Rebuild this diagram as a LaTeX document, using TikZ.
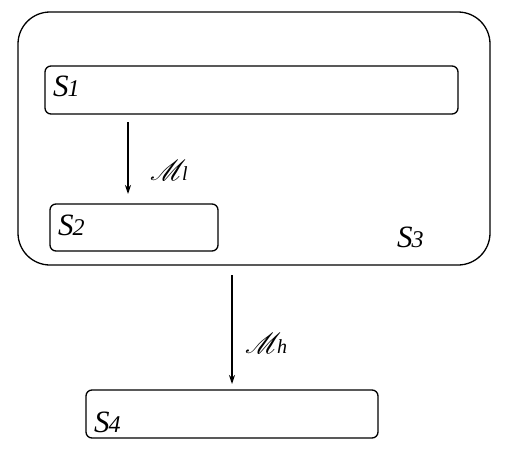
\documentclass[tikz,border=0pt]{standalone}
\usepackage{fontspec}
\usepackage{graphicx}
\usepackage{mathrsfs}
\usetikzlibrary{arrows.meta}
\setmainfont{Liberation Serif}
\newcommand{\slab}[1]{S\kern-1pt{\fontsize{24}{24}\selectfont #1}}
\newcommand{\mlb}[1]{\scalebox{2.9}{$\mathscr{M}$}\kern-4pt{\fontsize{20}{20}\selectfont\itshape #1}}
\begin{document}
\begin{tikzpicture}[x=1pt,y=-1pt,
  box/.style={draw,line width=1.3pt,rounded corners=6pt},
  lab/.style={font=\fontsize{31}{31}\selectfont\itshape,anchor=base west,inner sep=0pt},
  mlab/.style={anchor=base west,inner sep=0pt},
  arr/.style={-{Stealth[length=9pt,width=6pt]},line width=1.2pt}]
\useasboundingbox (0,0) rectangle (506,458);
\draw[line width=1.3pt,rounded corners=32pt] (18,12) rectangle (490,265);
\draw[box] (45,66) rectangle (458,114);
\draw[box] (50,204) rectangle (218,251);
\draw[box] (86,390) rectangle (378,438);
\node[lab] (s1) at (53,96) {\slab{1}};
\node[lab] (s2) at (58,235) {\slab{2}};
\node[lab] (s3) at (397,247) {\slab{3}};
\node[lab] (s4) at (94,432) {\slab{4}};
\coordinate (a1) at (128,122);
\coordinate (b1) at (128,194);
\coordinate (a2) at (232,275);
\coordinate (b2) at (232,384);
\draw[arr] (a1) -- (b1);
\draw[arr] (a2) -- (b2);
\node[mlab] (ml) at (150,180) {\mlb{l}};
\node[mlab] (mh) at (245,353) {\mlb{h}};
\end{tikzpicture}
\end{document}
